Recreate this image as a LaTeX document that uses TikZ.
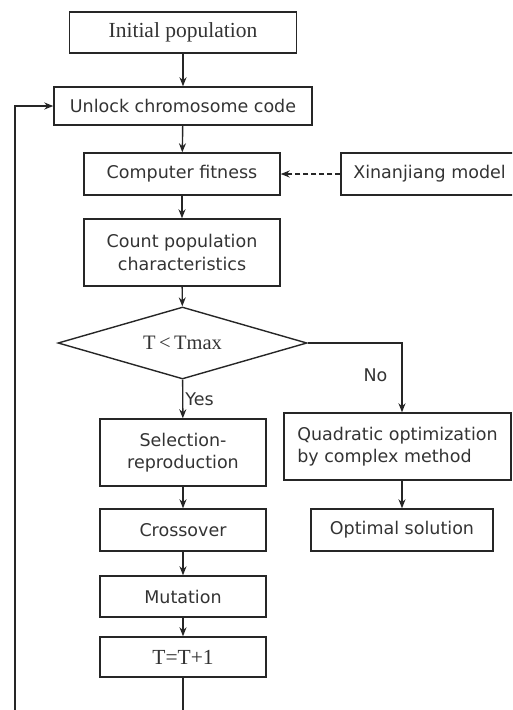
\documentclass[tikz,border=0pt]{standalone}
\usepackage{fontspec}
\setmainfont{Liberation Serif}
\setsansfont{DejaVu Sans}
\usetikzlibrary{shapes.geometric,arrows.meta}
\begin{document}
\begin{tikzpicture}[x=1pt,y=-1pt,
  box/.style={draw=black!85, line width=1.4pt, rectangle, inner sep=0pt, align=center,
    font=\sffamily\fontsize{17.5}{22.5}\selectfont, text=black!80},
  serifbox/.style={box, font=\rmfamily\fontsize{21.5}{24}\selectfont},
  lbl/.style={font=\sffamily\fontsize{17.5}{21}\selectfont, text=black!80, inner sep=0pt},
  flow/.style={draw=black!85, line width=1.4pt, -{Stealth[length=9pt,width=7pt]}}]
\useasboundingbox (0,0) rectangle (512,710);
\clip (0,0) rectangle (512,710);

% main column
\node[serifbox, minimum width=227, minimum height=41] (init) at (183,32.5) {Initial population};
\node[box, minimum width=258, minimum height=38] (unlock) at (183,106) {Unlock chromosome code};
\node[box, minimum width=196, minimum height=42] (fit) at (182,174) {Computer fitness};
\node[box, minimum width=189, minimum height=42] (xin) at (435.5,174) {\hspace*{-12pt}Xinanjiang model};
\node[box, minimum width=196, minimum height=67] (count) at (182,252.5) {Count population\\characteristics};
\node[draw=black!85, line width=1.4pt, diamond, aspect=3.46, inner sep=0pt,
      minimum width=249, minimum height=72, text=black!80,
      font=\rmfamily\fontsize{20.5}{24}\selectfont] (dia) at (182.5,343) {T\,<\,Tmax};
\node[box, minimum width=166, minimum height=67] (sel) at (183,452.5) {Selection-\\reproduction};
\node[box, minimum width=166, minimum height=42] (cross) at (183,530) {Crossover};
\node[box, minimum width=166, minimum height=41] (mut) at (183,596.5) {Mutation};
\node[serifbox, minimum width=166, minimum height=40] (tt) at (183,657) {T=T+1};

% right branch
\node[box, minimum width=227, minimum height=67, align=left] (quad) at (397.5,446.5)
  {Quadratic optimization\\by complex method};
\node[box, minimum width=182, minimum height=42] (opt) at (402,530) {Optimal solution};

\coordinate (loopcorner) at (15,730);

% connectors
\draw[flow] (init) -- (unlock);
\draw[flow] (unlock) -- (fit);
\draw[flow] (fit) -- (count);
\draw[flow] (count) -- (dia);
\draw[flow] (dia) -- node[lbl, anchor=west, pos=0.5, xshift=2pt] {Yes} (sel);
\draw[flow] (sel) -- (cross);
\draw[flow] (cross) -- (mut);
\draw[flow] (mut) -- (tt);
\draw[flow, dashed, dash pattern=on 5pt off 3pt] (xin) -- (fit);
\draw[flow] (dia.east) -| node[lbl, pos=0.73, anchor=east, xshift=-14pt] {No} (opt.north |- quad.north);
\draw[flow] (opt.north |- quad.south) -- (opt.north);
\draw[flow] (tt.south) |- (loopcorner) |- (unlock.west);
\end{tikzpicture}
\end{document}
